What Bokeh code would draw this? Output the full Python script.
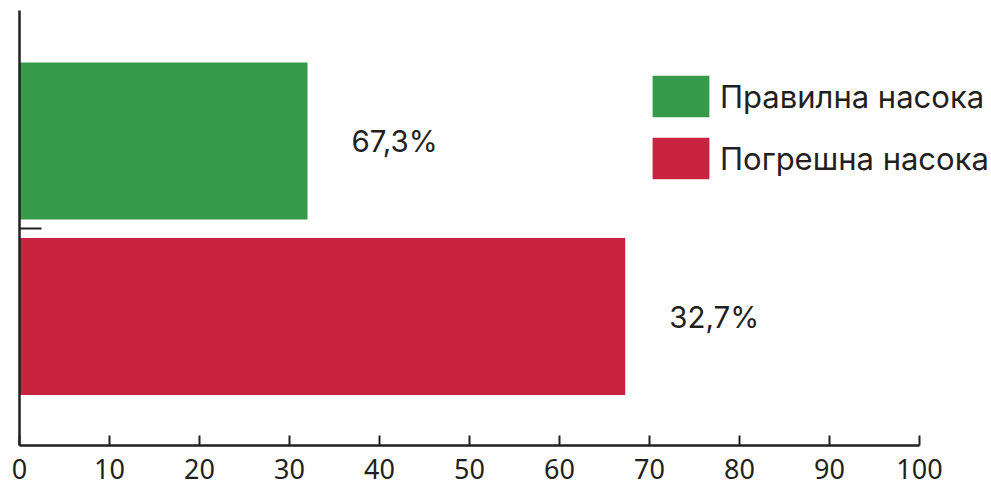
from bokeh.plotting import figure
from bokeh.models import ColumnDataSource, FixedTicker, Range1d, Legend, LegendItem
from bokeh.core.properties import value
from bokeh.embed import file_html
from bokeh.resources import INLINE

categories = ["Правилна насока", "Погрешна насока"]
values = [32.0, 67.3]
bar_labels = ["67,3%", "32,7%"]
colors = ["#37994a", "#c8243f"]
x_ticks = [0, 10, 20, 30, 40, 50, 60, 70, 80, 90, 100]

ink = "#231f20"
n = len(categories)
ys = [n - 1 - i for i in range(n)]

# frame spans the full width to the right so the legend is not clipped;
# the x axis itself is bounded to 0..100
p = figure(width=991, height=487, output_backend="svg", toolbar_location=None,
           x_range=Range1d(0, 108), y_range=Range1d(-0.735, 1.744),
           min_border_left=19, min_border_right=0, min_border_top=10, min_border_bottom=42)
p.outline_line_color = None
p.grid.visible = False
p.background_fill_color = "white"
p.border_fill_color = "white"

items = []
for i in range(n):
    src = ColumnDataSource(dict(y=[ys[i]], v=[values[i]], lab=[bar_labels[i]]))
    r = p.hbar(y="y", right="v", left=0, height=0.895, source=src,
               fill_color=colors[i], line_color=None)
    items.append(LegendItem(label=categories[i], renderers=[r]))
    p.text(x="v", y="y", text="lab", source=src, x_offset=44,
           text_align="left", text_baseline="middle", text_color=ink,
           text_font=value("Inter"), text_font_size="29.5px")

legend = Legend(items=items, location=(626, 261), orientation="vertical",
                glyph_width=71, glyph_height=52, label_height=52, label_standoff=4,
                spacing=10, padding=0, margin=0,
                label_text_font="Inter", label_text_font_size="31px",
                label_text_color=ink, border_line_color=None, background_fill_alpha=0)
p.add_layout(legend)

xa = p.xaxis[0]
xa.bounds = (0, 100)
xa.ticker = FixedTicker(ticks=x_ticks)
xa.axis_line_width = 2.5
xa.axis_line_color = ink
xa.major_tick_line_color = ink
xa.major_tick_line_width = 2
xa.major_tick_in = 10
xa.major_tick_out = 0
xa.minor_tick_line_color = None
xa.major_label_text_font = "Noto Sans"
xa.major_label_text_font_size = "27px"
xa.major_label_text_color = ink
xa.major_label_standoff = 13

ya = p.yaxis[0]
ya.ticker = FixedTicker(ticks=[0.5])
ya.axis_line_width = 2.5
ya.axis_line_color = ink
ya.major_tick_line_color = ink
ya.major_tick_line_width = 2
ya.major_tick_in = 22
ya.major_tick_out = 0
ya.minor_tick_line_color = None
ya.major_label_overrides = {0.5: ""}
ya.major_label_standoff = 0

open("out.html", "w").write(file_html(p, INLINE))
